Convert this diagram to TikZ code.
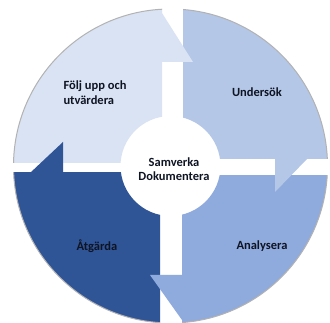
\documentclass[tikz,border=0pt]{standalone}
\usepackage{fontspec}
\setmainfont{Carlito}
\definecolor{foljblue}{HTML}{DAE3F3}
\definecolor{undersokblue}{HTML}{B4C7E7}
\definecolor{analysblue}{HTML}{8FAADC}
\definecolor{atgardblue}{HTML}{2F5597}
\definecolor{labelink}{RGB}{15,20,35}
\begin{document}
\begin{tikzpicture}[x=1pt, y=-1pt,
            rim/.style={draw=gray!60, line width=1pt},
            lbl/.style={font=\bfseries\fontsize{12.5}{14.5}\selectfont, text=labelink},
        ]
        \fill[white] (0,0) rectangle (330,323);
        \useasboundingbox (0,0) rectangle (330,323);
        \coordinate (c) at (170.5,166);

        % ring quarters, cut apart by the white cross
        \begin{scope}
            \clip (0,0) rectangle (162,163);
            \fill[foljblue, even odd rule] (c) circle (157pt) (c) circle (50pt);
            \draw[rim] (c) circle (157pt);
        \end{scope}
        \begin{scope}
            \clip (183,0) rectangle (330,159);
            \fill[undersokblue, even odd rule] (c) circle (157pt) (c) circle (50pt);
            \draw[rim] (c) circle (157pt);
        \end{scope}
        \begin{scope}
            \clip (182,176) rectangle (330,323);
            \fill[analysblue, even odd rule] (c) circle (157pt) (c) circle (50pt);
            \draw[rim] (c) circle (157pt);
        \end{scope}
        \begin{scope}
            \clip (0,173) rectangle (160,323);
            \fill[atgardblue, even odd rule] (c) circle (157pt) (c) circle (50pt);
            \draw[rim] (c) circle (157pt);
        \end{scope}

        % arrow heads
        \fill[foljblue] (162,13) -- (193,62) -- (162,62) -- cycle;
        \fill[undersokblue] (307,159) -- (275,192) -- (275,159) -- cycle;
        \fill[analysblue] (182,320) -- (150,275) -- (182,275) -- cycle;
        \fill[atgardblue] (30,173) -- (63,142) -- (63,173) -- cycle;

        \node[lbl, align=left, anchor=west] (folj) at (60,92.5) {Följ upp och\\utvärdera};
        \node[lbl] (undersok) at (257,92) {Undersök};
        \node[lbl, align=center] (samverka) at (174,169) {Samverka\\Dokumentera};
        \node[lbl] (atgarda) at (97,246) {Åtgärda};
        \node[lbl] (analysera) at (262,246) {Analysera};
    \end{tikzpicture}
\end{document}
